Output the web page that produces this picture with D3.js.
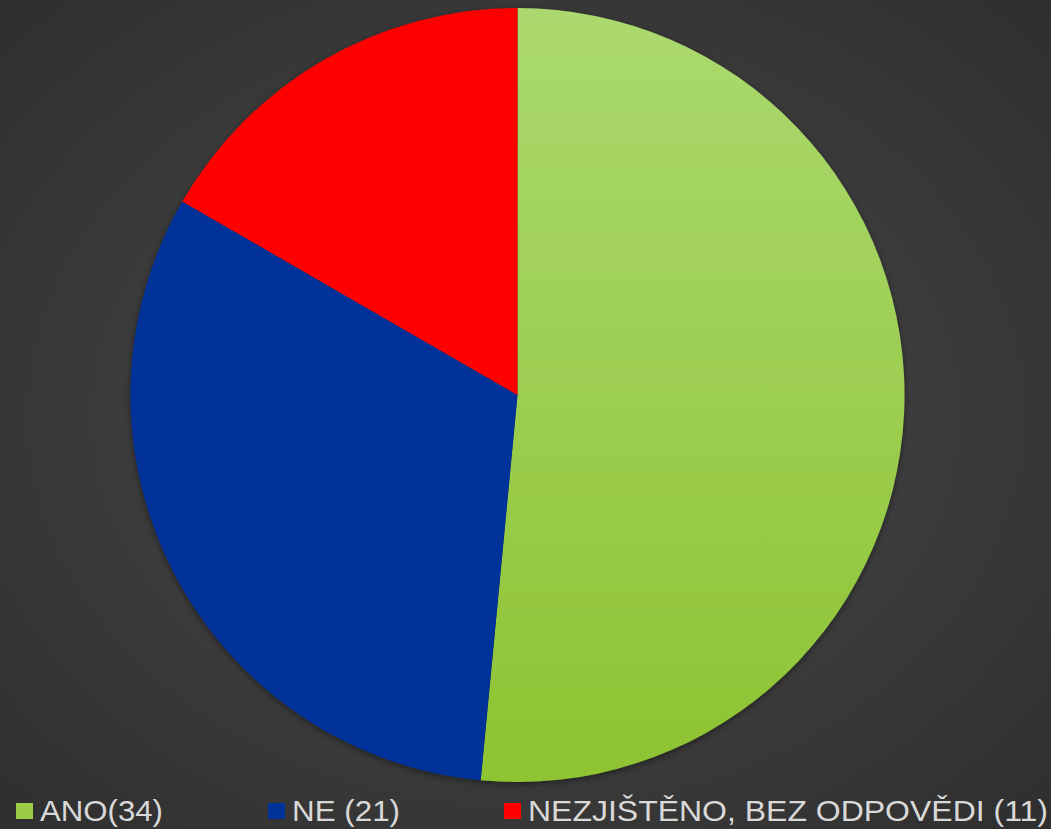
<!DOCTYPE html>
<html><head><meta charset="utf-8">
<script src="https://cdn.jsdelivr.net/npm/d3@7"></script>
<style>html,body{margin:0;padding:0;background:#333;}svg{display:block;}</style>
</head><body>
<script>
const categories = ["ANO(34)", "NE (21)", "NEZJIŠTĚNO, BEZ ODPOVĚDI (11)"];
const values = [34, 21, 11];
const colors = ["url(#gGreen)", "#003399", "#FF0000"];
const swatchColors = ["#9ACD45", "#003399", "#FF0000"];

const W = 1051, H = 829;
const svg = d3.select("body").append("svg").attr("width", W).attr("height", H);
const defs = svg.append("defs");
const bg = defs.append("radialGradient").attr("id", "bg").attr("cx", "50%").attr("cy", "50%").attr("r", "70%");
bg.append("stop").attr("offset", "0%").attr("stop-color", "#4a4a4a");
bg.append("stop").attr("offset", "100%").attr("stop-color", "#2f2f2f");
const gg = defs.append("linearGradient").attr("id", "gGreen").attr("gradientUnits", "userSpaceOnUse")
  .attr("x1", 0).attr("y1", -387).attr("x2", 0).attr("y2", 387);
gg.append("stop").attr("offset", "0%").attr("stop-color", "#ABD96F");
gg.append("stop").attr("offset", "100%").attr("stop-color", "#8EC332");
const f = defs.append("filter").attr("id", "sh").attr("x", "-10%").attr("y", "-10%").attr("width", "120%").attr("height", "120%");
f.append("feDropShadow").attr("dx", 0).attr("dy", 2).attr("stdDeviation", 3).attr("flood-color", "#000").attr("flood-opacity", 0.45);

svg.append("rect").attr("width", W).attr("height", H).attr("fill", "url(#bg)");

const cx = 517.5, cy = 395, r = 387;
const pie = d3.pie().sort(null).value(d => d)(values);
const arc = d3.arc().innerRadius(0).outerRadius(r);
const g = svg.append("g").attr("transform", `translate(${cx},${cy})`).attr("filter", "url(#sh)");
g.selectAll("path").data(pie).join("path").attr("d", arc).attr("fill", (d, i) => colors[i]);

// legend
const legX = [16, 268, 504];
const textW = [123, 108, 520];
const lg = svg.append("g");
categories.forEach((c, i) => {
  lg.append("rect").attr("x", legX[i]).attr("y", 803).attr("width", 17).attr("height", 16).attr("fill", swatchColors[i]);
  lg.append("text").attr("x", legX[i] + 24).attr("y", 821)
    .attr("font-family", "'Liberation Sans',Arial,sans-serif")
    .attr("font-size", 30).attr("fill", "#D9D9D9")
    .attr("textLength", textW[i]).attr("lengthAdjust", "spacingAndGlyphs")
    .text(c);
});
</script>
</body></html>
